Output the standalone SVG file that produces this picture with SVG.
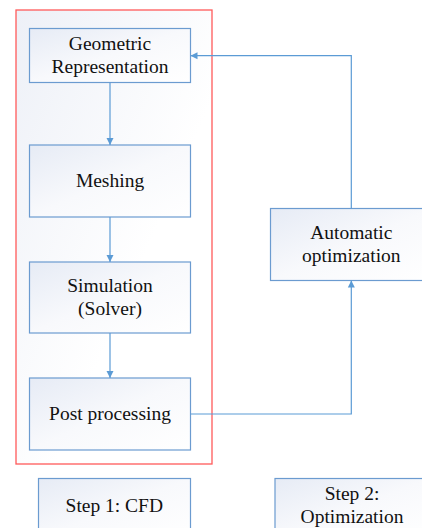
<svg xmlns="http://www.w3.org/2000/svg" width="422" height="528" viewBox="0 0 422 528">
<defs>
<linearGradient id="g" x1="0" y1="0" x2="1" y2="1">
<stop offset="0" stop-color="#e6ebf5"/>
<stop offset="0.5" stop-color="#f8f9fc"/>
<stop offset="1" stop-color="#ffffff"/>
</linearGradient>
<linearGradient id="gc" x1="0" y1="0" x2="1" y2="1">
<stop offset="0" stop-color="#edf0f7"/>
<stop offset="0.6" stop-color="#ffffff"/>
<stop offset="1" stop-color="#ffffff"/>
</linearGradient>
<marker id="ah" markerWidth="8" markerHeight="8" refX="7" refY="4" orient="auto" markerUnits="userSpaceOnUse">
<path d="M0,0.5 L7,4 L0,7.5 Z" fill="#5b9bd5"/>
</marker>
</defs>
<style>
.box{fill:url(#g);stroke:#6b9bd0;stroke-width:1.2}
.t{font-size:19.5px;fill:#111;text-anchor:middle}
.c{fill:none;stroke:#5b9bd5;stroke-width:1.2;marker-end:url(#ah)}
</style>
<rect id="container" x="16" y="10" width="196" height="454" fill="url(#gc)" stroke="#ff5a5a" stroke-width="1.3"/>
<g font-family="'Liberation Serif', 'Times New Roman', serif">
<g id="geometric"><rect class="box" x="29.5" y="28.5" width="161" height="54"/><text class="t" x="110" y="50">Geometric</text><text class="t" x="110" y="73.3">Representation</text></g>
<g id="meshing"><rect class="box" x="29.5" y="145" width="161" height="72"/><text class="t" x="110" y="186.7">Meshing</text></g>
<g id="simulation"><rect class="box" x="29.5" y="262" width="161" height="71"/><text class="t" x="110" y="291.7">Simulation</text><text class="t" x="110" y="315">(Solver)</text></g>
<g id="post"><rect class="box" x="29.5" y="378" width="161" height="72"/><text class="t" x="110" y="419.5">Post processing</text></g>
<g id="automatic"><rect class="box" x="270.5" y="208.5" width="162" height="72"/><text class="t" x="351.3" y="239">Automatic</text><text class="t" x="351.3" y="261.7">optimization</text></g>
<g id="step1"><rect class="box" x="38.5" y="478.5" width="152" height="60"/><text class="t" x="114.3" y="511.7">Step 1: CFD</text></g>
<g id="step2"><rect class="box" x="275" y="478.5" width="155" height="60"/><text class="t" x="352" y="500">Step 2:</text><text class="t" x="352" y="523.3">Optimization</text></g>
</g>
<g id="connectors">
<path class="c" d="M110,82.5 V145"/>
<path class="c" d="M110,217 V262"/>
<path class="c" d="M110,333 V378"/>
<path class="c" d="M190.5,414 H351.3 V280.5"/>
<path class="c" d="M351.3,208.5 V55.7 H190.5"/>
</g>
</svg>
